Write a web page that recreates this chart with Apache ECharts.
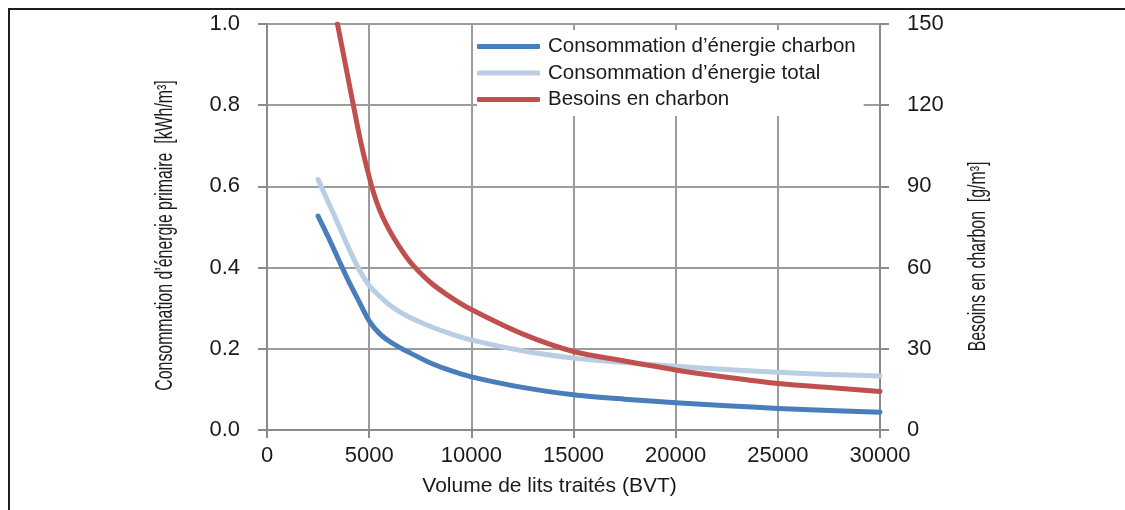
<!DOCTYPE html>
<html>
<head>
<meta charset="utf-8">
<script src="https://cdn.jsdelivr.net/npm/echarts@6/dist/echarts.min.js"></script>
<style>
  html, body { margin: 0; padding: 0; background: #fff; }
  #chart { width: 1125px; height: 510px; }
</style>
</head>
<body>
<div id="chart"></div>
<script>
// volume de lits traités (BVT), axe des x
var volume = [2500, 3000, 3500, 4000, 4500, 5000, 5500, 6000, 6500, 7000, 8000, 9000, 10000, 12500, 15000, 17500, 20000, 22500, 25000, 27500, 30000];
// consommation d'énergie primaire [kWh/m3]
var energieCharbon = [0.527, 0.475, 0.42, 0.366, 0.317, 0.269, 0.238, 0.218, 0.203, 0.19, 0.165, 0.146, 0.131, 0.105, 0.087, 0.076, 0.067, 0.06, 0.053, 0.048, 0.044];
var energieTotal = [0.617, 0.561, 0.505, 0.448, 0.396, 0.356, 0.33, 0.308, 0.291, 0.277, 0.255, 0.237, 0.222, 0.195, 0.177, 0.166, 0.157, 0.149, 0.142, 0.137, 0.133];
// besoins en charbon [g/m3], axe de droite
var volumeBesoins = [3450, 3800, 4200, 4600, 4900, 5200, 5500, 5800, 6200, 6700, 7150, 8000, 9000, 10000, 12500, 15000, 17500, 20000, 22500, 25000, 27500, 30000];
var besoinsCharbon = [150, 136.5, 121, 106, 96.5, 88, 81.5, 76.5, 71, 65.2, 60.8, 54.5, 49, 44.5, 35.5, 29, 25.5, 22.2, 19.5, 17.2, 15.7, 14.2];

var seriesNames = ['Consommation d\u2019énergie charbon', 'Consommation d\u2019énergie total', 'Besoins en charbon'];
var titreGauche = 'Consommation d\u2019énergie primaire  [kWh/m\u00b3]';
var titreDroite = 'Besoins en charbon  [g/m\u00b3]';
var titreX = 'Volume de lits traités (BVT)';

function pairs(xs, ys) {
    var out = [];
    for (var i = 0; i < xs.length; i++) {
        out.push([xs[i], ys[i]]);
    }
    return out;
}

var textColor = '#1a1a1a';
var axisGray = '#8a8a8a';
var gridGray = '#9c9c9c';
var arial = '"Liberation Sans", Arial, sans-serif';

var chart = echarts.init(document.getElementById('chart'), null, { renderer: 'canvas' });

function lineSerie(name, data, color, axis, z) {
    return {
        name: name,
        type: 'line',
        yAxisIndex: axis,
        data: data,
        smooth: 0.3,
        showSymbol: false,
        symbol: 'none',
        color: color,
        lineStyle: { width: 5, color: color, cap: 'round', join: 'round' },
        z: z
    };
}

// titres verticaux en police étroite (texte compressé dans le sens de lecture)
function titreVertical(texte, x, y) {
    return {
        type: 'text',
        silent: true,
        x: x,
        y: y,
        rotation: Math.PI / 2,
        scaleX: 0.69,
        style: {
            text: texte,
            font: '23px ' + arial,
            fill: textColor,
            align: 'center',
            verticalAlign: 'middle'
        }
    };
}

var option = {
    animation: false,
    backgroundColor: '#fff',
    textStyle: { fontFamily: arial },
    grid: { left: 267, right: 245, top: 24, bottom: 80 },
    legend: {
        data: seriesNames,
        orient: 'vertical',
        left: 477,
        top: 30,
        icon: 'roundRect',
        itemWidth: 63,
        itemHeight: 5,
        itemGap: 5.5,
        padding: [6, 8, 6, 0],
        backgroundColor: '#fff',
        textStyle: { fontSize: 20.5, color: textColor, lineHeight: 20, padding: [0, 0, 0, 3] }
    },
    xAxis: {
        type: 'value',
        min: 0,
        max: 30000,
        interval: 5000,
        name: titreX,
        nameLocation: 'middle',
        nameGap: 46,
        nameTextStyle: { fontSize: 21, color: textColor, padding: [0, 48, 0, 0] },
        axisLine: { show: true, lineStyle: { color: axisGray, width: 2 } },
        axisTick: { show: true, length: 8, lineStyle: { color: axisGray, width: 2 } },
        axisLabel: {
            fontSize: 22, color: textColor, margin: 15,
            formatter: function (v) { return String(v); }
        },
        splitLine: { show: true, lineStyle: { color: gridGray, width: 2 } }
    },
    yAxis: [
        {
            type: 'value',
            min: 0,
            max: 1,
            interval: 0.2,
            position: 'left',
            axisLine: { show: true, lineStyle: { color: axisGray, width: 2 } },
            axisTick: { show: true, length: 9, lineStyle: { color: axisGray, width: 2 } },
            axisLabel: {
                fontSize: 22, color: textColor, margin: 27,
                formatter: function (v) { return v.toFixed(1); }
            },
            splitLine: { show: true, lineStyle: { color: gridGray, width: 2 } }
        },
        {
            type: 'value',
            min: 0,
            max: 150,
            interval: 30,
            position: 'right',
            axisLine: { show: true, lineStyle: { color: axisGray, width: 2 } },
            axisTick: { show: true, length: 9, lineStyle: { color: axisGray, width: 2 } },
            axisLabel: { fontSize: 22, color: textColor, margin: 27 },
            splitLine: { show: false }
        }
    ],
    series: [
        lineSerie(seriesNames[0], pairs(volume, energieCharbon), '#4a7ebb', 0, 3),
        lineSerie(seriesNames[1], pairs(volume, energieTotal), '#b9cde5', 0, 2),
        lineSerie(seriesNames[2], pairs(volumeBesoins, besoinsCharbon), '#c0504d', 1, 4)
    ],
    graphic: [
        {
            type: 'polyline',
            silent: true,
            shape: { points: [[9, 510], [9, 9], [1125, 9]] },
            style: { stroke: '#1e1e1e', lineWidth: 2, fill: null }
        },
        titreVertical(titreGauche, 165.5, 235.5),
        titreVertical(titreDroite, 979, 256.5)
    ]
};

chart.setOption(option);
</script>
</body>
</html>
